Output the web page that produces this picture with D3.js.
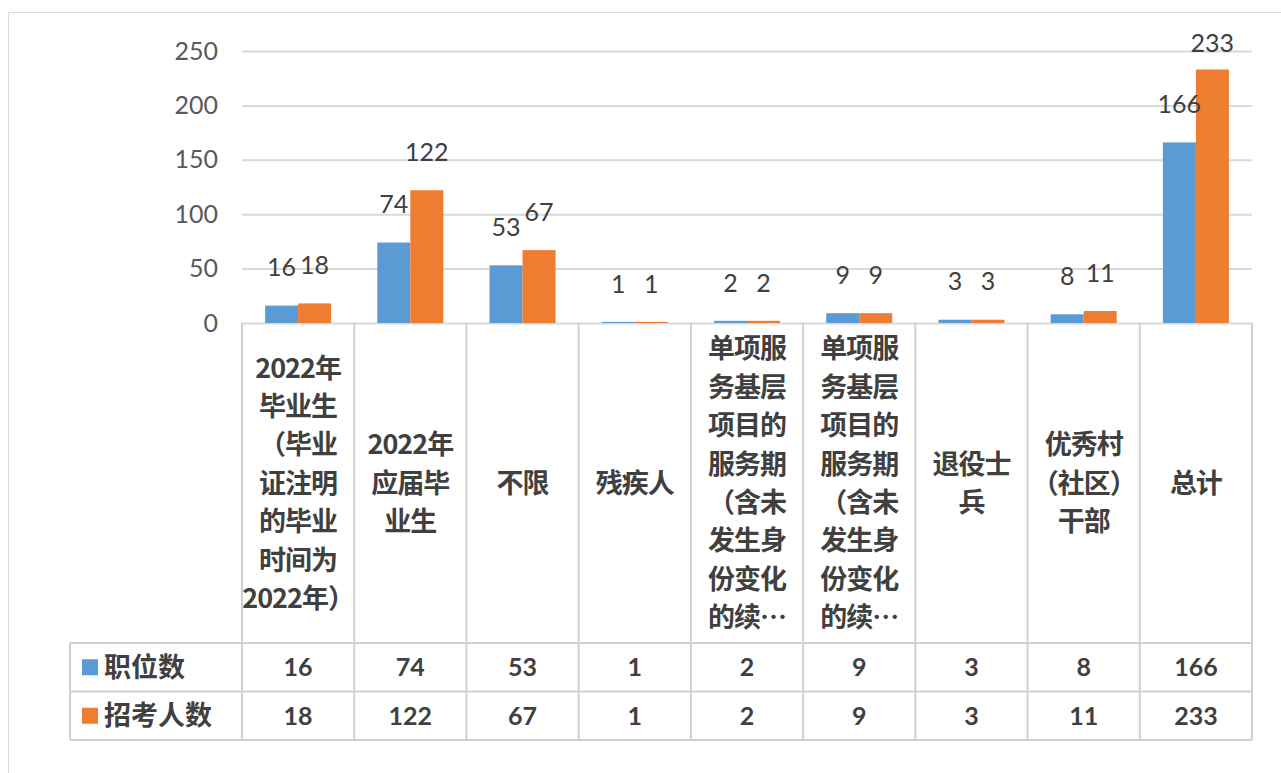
<!DOCTYPE html>
<html>
<head>
<meta charset="utf-8">
<script src="https://cdn.jsdelivr.net/npm/d3@7"></script>
<style>
  body { margin: 0; background: #fff; }
  svg { display: block; }
</style>
</head>
<body>
<div id="chart"></div>
<script>
// data
var categories = ["c1", "c2", "c3", "c4", "c5", "c6", "c7", "c8", "c9"];
var categoryLines = [
  ["2022年", "毕业生", "（毕业", "证注明", "的毕业", "时间为", "2022年）"],
  ["2022年", "应届毕", "业生"],
  ["不限"],
  ["残疾人"],
  ["单项服", "务基层", "项目的", "服务期", "（含未", "发生身", "份变化", "的续…"],
  ["单项服", "务基层", "项目的", "服务期", "（含未", "发生身", "份变化", "的续…"],
  ["退役士", "兵"],
  ["优秀村", "（社区）", "干部"],
  ["总计"]
];
var seriesNames = ["职位数", "招考人数"];
var jobs = [16, 74, 53, 1, 2, 9, 3, 8, 166];
var applicants = [18, 122, 67, 1, 2, 9, 3, 11, 233];
var yTicks = [0, 50, 100, 150, 200, 250];

var colors = ["#5B9BD5", "#ED7D31"];
var seriesValues = [jobs, applicants];

var w = 1281;
var h = 773;
var left = 242;
var right = 1252;
var tableLeft = 70;
var y0 = 323;
var headBottom = 643;
var rowH = 48.5;

var svg = d3
  .select("#chart")
  .append("svg")
  .attr("width", w)
  .attr("height", h);

// outer frame
svg
  .append("rect")
  .attr("x", 8.5)
  .attr("y", 12.5)
  .attr("width", w + 20)
  .attr("height", h + 20)
  .attr("fill", "none")
  .attr("stroke", "#d9d9d9")
  .attr("stroke-width", 1);

var x = d3.scaleBand().domain(categories).range([left, right]);
var xs = d3
  .scaleBand()
  .domain([0, 1])
  .range([0, x.bandwidth()])
  .paddingOuter(0.7);
var y = d3.scaleLinear().domain([0, 250]).range([y0, 51]);

// gridlines + y labels
var yAxis = svg
  .append("g")
  .attr("transform", "translate(" + left + ",0)")
  .call(
    d3
      .axisLeft(y)
      .tickValues(yTicks)
      .tickSize(-(right - left))
      .tickPadding(24)
  );
yAxis.select(".domain").remove();
yAxis
  .selectAll("line")
  .attr("stroke", "#d9d9d9")
  .attr("stroke-width", 2);
yAxis
  .selectAll("text")
  .attr("fill", "#595959")
  .style("font-family", "Lato, 'Liberation Sans', sans-serif")
  .style("font-size", "25px");

// bars
var groups = svg
  .append("g")
  .selectAll("g")
  .data(categories)
  .enter()
  .append("g")
  .attr("transform", (d) => "translate(" + x(d) + ",0)");

groups
  .selectAll("rect")
  .data((d, i) => seriesValues.map((s, k) => ({ k: k, v: s[i] })))
  .enter()
  .append("rect")
  .attr("x", (d) => xs(d.k))
  .attr("y", (d) => y(d.v))
  .attr("width", xs.bandwidth())
  .attr("height", (d) => y0 - y(d.v))
  .attr("fill", (d) => colors[d.k]);

groups
  .selectAll("text.val")
  .data((d, i) => seriesValues.map((s, k) => ({ k: k, v: s[i] })))
  .enter()
  .append("text")
  .attr("class", "val")
  .attr("x", (d) => xs(d.k) + xs.bandwidth() / 2)
  .attr("y", (d) => Math.max(y(d.v) - 38, 43))
  .attr("dy", "0.35em")
  .attr("text-anchor", "middle")
  .attr("fill", "#404040")
  .style("font-family", "Lato, 'Liberation Sans', sans-serif")
  .style("font-size", "25px")
  .text((d) => d.v);

// data table
var lineColor = "#d0d0d0";
var table = svg.append("g");
var bounds = categories.map((c) => x(c)).concat([right]);
var tableBottom = headBottom + 2 * rowH;

table
  .selectAll("line.v")
  .data(bounds)
  .enter()
  .append("line")
  .attr("x1", (d) => d)
  .attr("x2", (d) => d)
  .attr("y1", y0)
  .attr("y2", tableBottom)
  .attr("stroke", lineColor)
  .attr("stroke-width", 2);

table
  .selectAll("line.h")
  .data([headBottom, headBottom + rowH, tableBottom])
  .enter()
  .append("line")
  .attr("x1", tableLeft)
  .attr("x2", right)
  .attr("y1", (d) => d)
  .attr("y2", (d) => d)
  .attr("stroke", lineColor)
  .attr("stroke-width", 2);

table
  .append("line")
  .attr("x1", tableLeft)
  .attr("x2", tableLeft)
  .attr("y1", headBottom)
  .attr("y2", tableBottom)
  .attr("stroke", lineColor)
  .attr("stroke-width", 2);

// header labels
var lineGap = 38.4;
var headMid = (y0 + headBottom) / 2;
categories.forEach(function (c, i) {
  var lines = categoryLines[i];
  var top = headMid - ((lines.length - 1) * lineGap) / 2;
  table
    .append("g")
    .selectAll("text")
    .data(lines)
    .enter()
    .append("text")
    .attr("x", x(c) + x.bandwidth() / 2)
    .attr("y", (d, j) => top + j * lineGap)
    .attr("dy", "0.36em")
    .attr("text-anchor", "middle")
    .attr("fill", "#404040")
    .style("font-family", "'Noto Sans CJK SC', sans-serif")
    .style("font-weight", "bold")
    .style("font-size", "27px")
    .style("letter-spacing", "-1px")
    .text((d) => d);
});

// rows
seriesNames.forEach(function (name, k) {
  var cy = headBottom + rowH * k + rowH / 2;
  table
    .append("rect")
    .attr("x", 82)
    .attr("y", cy - 8)
    .attr("width", 16)
    .attr("height", 16)
    .attr("fill", colors[k]);
  table
    .append("text")
    .attr("x", 104)
    .attr("y", cy)
    .attr("dy", "0.36em")
    .attr("fill", "#404040")
    .style("font-family", "'Noto Sans CJK SC', sans-serif")
    .style("font-weight", "bold")
    .style("font-size", "27px")
    .text(name);
  table
    .append("g")
    .selectAll("text")
    .data(seriesValues[k])
    .enter()
    .append("text")
    .attr("x", (d, i) => x(categories[i]) + x.bandwidth() / 2)
    .attr("y", cy)
    .attr("dy", "0.36em")
    .attr("text-anchor", "middle")
    .attr("fill", "#404040")
    .style("font-family", "Lato, 'Liberation Sans', sans-serif")
    .style("font-weight", "bold")
    .style("font-size", "25px")
    .text((d) => d);
});
</script>
</body>
</html>
